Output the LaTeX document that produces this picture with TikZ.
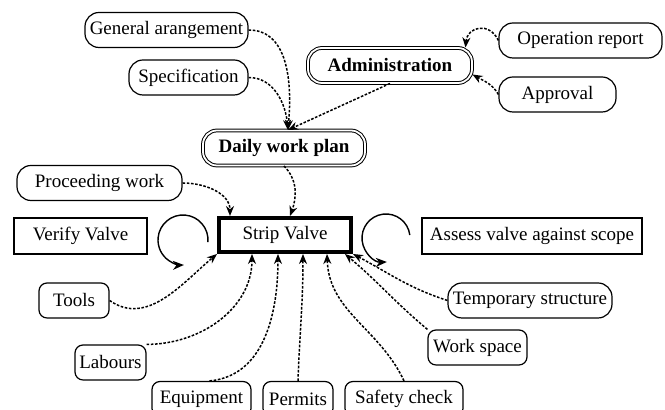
\documentclass[tikz,border=0pt]{standalone}
\usepackage{fontspec}
\setmainfont{LiberationSerif}[Extension=.ttf, UprightFont=*-Regular, BoldFont=*-Bold, ItalicFont=*-Italic, BoldItalicFont=*-BoldItalic]
\usetikzlibrary{calc}
\usetikzlibrary{arrows.meta}

\tikzset{
 pill/.style={draw, line width=.6pt, rounded corners=7pt, minimum height=17.5pt, inner sep=2pt},
 tag/.style={draw, line width=.6pt, rounded corners=4pt, minimum height=17.5pt, inner sep=2pt},
 head/.style={draw, double, double distance=.9pt, line width=.5pt, rounded corners=7pt, minimum height=17.5pt, inner sep=2pt, font=\fontsize{9.5}{11}\selectfont\bfseries},
 task/.style={draw, line width=.7pt, minimum height=18pt, inner sep=2pt},
 feed/.style={line width=.75pt, dash pattern=on 1.3pt off .8pt, ->, >={Stealth[length=5pt,width=4pt]}},
 loop/.style={line width=.7pt, ->, >={Stealth[length=5.5pt,width=4.5pt]}},
}

\begin{document}
\begin{tikzpicture} [x=.5pt, y=.5pt, font=\fontsize{9.5}{11}\selectfont]
\useasboundingbox (0,0) rectangle (665,410);
% planning
\node[pill, minimum width=81.5pt] (gen) at (166.5,380) {General arangement};
\node[pill, minimum width=59.5pt] (spec) at (188.5,332.5) {Specification};
\node[head, minimum width=82pt] (admin) at (390,344.5) {Administration};
\node[pill, minimum width=81.5pt] (oprep) at (580.5,369.5) {Operation report};
\node[pill, minimum width=58.5pt] (appr) at (557.5,315.5) {Approval};
\node[head, minimum width=81pt] (daily) at (284,262) {Daily work plan};
\node[pill, minimum width=82.5pt] (proc) at (99.5,227) {Proceeding work};
% valve tasks
\node[task, minimum width=66.5pt] (verify) at (80.5,174) {Verify Valve};
\node[task, line width=2pt, minimum width=66pt, minimum height=17pt] (strip) at (285,175) {Strip Valve};
\node[task, minimum width=110pt] (assess) at (532,174) {Assess valve against scope};
% resources
\node[tag, minimum width=35pt] (tools) at (74,109.5) {Tools};
\node[tag, minimum width=35.5pt] (labours) at (110.5,47.5) {Labours};
\node[tag, minimum width=49.5pt] (equip) at (201.5,11) {Equipment};
\node[tag, minimum width=35pt] (permits) at (298,11) {Permits};
\node[tag, minimum width=59pt] (safety) at (404,11) {Safety check};
\node[tag, minimum width=49.5pt] (work) at (477.5,62.5) {Work space};
\node[pill, minimum width=82pt] (temp) at (530,109.5) {Temporary structure};
% links into the plan
\draw[feed] (gen.east) to[out=0,in=85] ([xshift=2pt]daily.north);
\draw[feed] (spec.east) to[out=0,in=95] ([xshift=2pt]daily.north);
\draw[feed] (admin.south) -- ([xshift=2pt]daily.north);
\draw[feed] (oprep.west) to[out=115,in=85,looseness=1.6] ([xshift=-3.5pt]admin.north east);
\draw[feed] (appr.west) to[out=120,in=-30] ([yshift=-4.5pt]admin.east);
% links into the strip
\draw[feed] (daily.south) to[out=-45,in=70] ([xshift=2.5pt]strip.north);
\draw[feed] (proc.east) to[out=0,in=90] ([xshift=-27.5pt]strip.north);
\draw[feed] (tools.east) to[out=-35,in=220] (strip.south west);
\draw[feed] (labours.north east) to[out=0,in=-90] ([xshift=-16.5pt]strip.south);
\draw[feed] ([xshift=4pt]equip.north) to[out=5,in=-90] ([xshift=-3.5pt]strip.south);
\draw[feed] (permits.north) to[out=88,in=-90] ([xshift=9pt]strip.south);
\draw[feed] (safety.north) to[out=115,in=-88] ([xshift=21pt]strip.south);
\draw[feed] (work.north west) to[out=140,in=-40] ([xshift=30pt]strip.south);
\draw[feed] (temp.west) to[out=162,in=-28] (strip.south east);
% loops
\coordinate (vloop) at (183,170);
\coordinate (aloop) at (386,172);
\draw[loop] (vloop) ++(-5:25) arc[start angle=-5, end angle=272, radius=25];
\draw[loop] (aloop) ++(7:24) arc[start angle=7, end angle=272, radius=24];
\end{tikzpicture}
\end{document}
